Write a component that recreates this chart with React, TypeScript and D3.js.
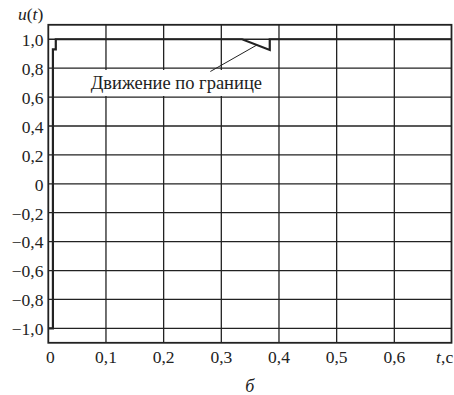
import * as d3 from 'd3';

// control signal u(t), piecewise: relay switch, short stay at 0.93, then saturation with a dip (boundary motion)
const tValues = [0, 0.008, 0.008, 0.013, 0.013, 0.336, 0.384, 0.384, 0.7];
const uValues = [-1.0, -1.0, 0.93, 0.93, 1.0, 1.0, 0.926, 1.0, 1.0];

const xTicks = [0, 0.1, 0.2, 0.3, 0.4, 0.5, 0.6, 0.7];
const xTickLabels = ['0', '0,1', '0,2', '0,3', '0,4', '0,5', '0,6'];
const yTicks = [1.0, 0.8, 0.6, 0.4, 0.2, 0, -0.2, -0.4, -0.6, -0.8, -1.0];
const yTickLabels = ['1,0', '0,8', '0,6', '0,4', '0,2', '0', '\u22120,2', '\u22120,4', '\u22120,6', '\u22120,8', '\u22121,0'];

const annotationText = 'Движение по границе';
// label anchor and leader line ends, in data units
const annotationAt = { t: 0.222, u: 0.658 };
const leaderFrom = { t: 0.281, u: 0.777 };
const leaderTo = { t: 0.362, u: 0.961 };

const W = 454;
const H = 395;
const ink = '#222';
const serifFamily = "'Liberation Serif', 'Times New Roman', Tinos";

export default function App() {
  const x = d3.scaleLinear().domain([0, 0.7]).range([48.3, 452]);
  const y = d3.scaleLinear().domain([-1.1, 1.1]).range([342.8, 24.8]);

  const line = d3.line<number>()
    .x((_, i) => x(tValues[i]))
    .y((d) => y(d));

  const left = x(0);
  const right = 451.5;
  const top = y(1.1);
  const bottom = y(-1.1);

  const ax = x(annotationAt.t);
  const ay = y(annotationAt.u);

  return (
    <svg width={W} height={H} style={{ position: 'absolute', left: 0, top: 0, background: '#fff' }}>
      <rect x={0} y={0} width={W} height={H} fill="#fff" />

      {/* grid */}
      <g stroke={ink} strokeWidth={1.3}>
        {xTicks.slice(1, -1).map((t) => (
          <line key={'gx' + t} x1={x(t)} x2={x(t)} y1={top} y2={bottom} />
        ))}
        {yTicks.map((u) => (
          <line key={'gy' + u} x1={left} x2={right} y1={y(u)} y2={y(u)} />
        ))}
      </g>

      {/* white box behind the annotation */}
      <rect x={82} y={70} width={182} height={26} fill="#fff" />

      {/* frame */}
      <rect x={left} y={top} width={right - left} height={bottom - top}
        fill="none" stroke={ink} strokeWidth={1.8} />

      {/* signal */}
      <path d={line(uValues) ?? ''} fill="none" stroke={ink} strokeWidth={2.2}
        strokeLinejoin="miter" />

      {/* annotation */}
      <line x1={x(leaderFrom.t)} y1={y(leaderFrom.u)} x2={x(leaderTo.t)} y2={y(leaderTo.u)}
        stroke={ink} strokeWidth={1} />
      <text x={ax} y={ay} textAnchor="middle" fontSize={18.5} fill={ink}
        style={{ fontFamily: serifFamily }}>
        {annotationText}
      </text>

      {/* y tick labels */}
      {yTicks.map((u, i) => (
        <text key={'yl' + u} x={43.5} y={y(u) + 6.8} fontSize={17.5} fill={ink}
          textAnchor="end" style={{ fontFamily: serifFamily }}>{yTickLabels[i]}</text>
      ))}

      {/* x tick labels */}
      {xTickLabels.map((s, i) => (
        <text key={'xl' + s} x={x(xTicks[i]) + (i === 0 ? 2 : 0)} y={362.7} fontSize={17.5}
          fill={ink} textAnchor="middle" style={{ fontFamily: serifFamily }}>{s}</text>
      ))}

      {/* axis titles */}
      <text x={436} y={362.7} fontSize={17.5} fill={ink} style={{ fontFamily: serifFamily }}>
        <tspan fontStyle="italic">t</tspan>,
      </text>
      <text x={445.5} y={362.7} fontSize={17.5} fill={ink} style={{ fontFamily: serifFamily }}>с</text>
      <text x={18} y={19.5} fontSize={17.5} fill={ink} style={{ fontFamily: serifFamily }}>
        <tspan fontStyle="italic">u</tspan>(<tspan fontStyle="italic">t</tspan>)
      </text>
      <text x={(left + right) / 2} y={392} fontSize={18} fontStyle="italic" fill={ink}
        textAnchor="middle" style={{ fontFamily: serifFamily }}>б</text>
    </svg>
  );
}
